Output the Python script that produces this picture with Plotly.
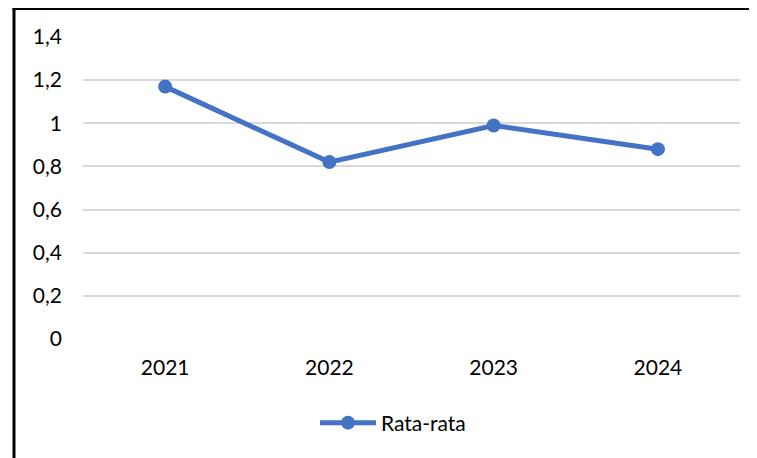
import plotly.graph_objects as go

years = ["2021", "2022", "2023", "2024"]
rata_rata = [1.17, 0.82, 0.99, 0.88]
y_ticks = [0, 0.2, 0.4, 0.6, 0.8, 1.0, 1.2, 1.4]
y_tick_labels = ["0", "0,2", "0,4", "0,6", "0,8", "1", "1,2", "1,4"]

OFF = 8  # default page body margin
W, H = 757 - OFF, 458 - OFF
ml, mr, mt, mb = 83 - OFF, 17, 37 - OFF, 119
pw, ph = W - ml - mr, H - mt - mb

def px_x(x):
    return (x - OFF - ml) / pw

def px_y(y):
    return (H - mb - (y - OFF)) / ph

fig = go.Figure()
fig.add_trace(go.Scatter(
    x=years, y=rata_rata, mode="lines+markers", name="Rata-rata",
    line=dict(color="#4472C4", width=5),
    marker=dict(color="#4472C4", size=14),
))

fig.update_layout(
    width=W, height=H,
    margin=dict(l=ml, r=mr, t=mt, b=mb),
    paper_bgcolor="white", plot_bgcolor="white",
    font=dict(family="Lato, Carlito, Calibri, sans-serif", size=21, color="#000000"),
    showlegend=True,
    legend=dict(orientation="h", x=px_x(393), xanchor="center", y=px_y(423), yanchor="middle",
                font=dict(size=21), itemwidth=56, bgcolor="rgba(0,0,0,0)"),
    xaxis=dict(type="category", range=[-0.5, 3.5], showgrid=False, showline=False,
               ticks="", ticklabelstandoff=14, zeroline=False),
    yaxis=dict(range=[0, 1.4], tickvals=y_ticks, ticktext=y_tick_labels,
               showgrid=True, gridcolor="#D9D9D9", gridwidth=1.5,
               zeroline=False, showline=False, ticks="", ticklabelstandoff=20),
    shapes=[
        dict(type="line", xref="paper", yref="paper", x0=px_x(14), x1=px_x(14),
             y0=px_y(7), y1=px_y(458), line=dict(color="black", width=3)),
        dict(type="line", xref="paper", yref="paper", x0=px_x(12.5), x1=px_x(757),
             y0=px_y(8.5), y1=px_y(8.5), line=dict(color="black", width=3)),
    ],
)

fig.write_html("out.html", config={"displayModeBar": False})
